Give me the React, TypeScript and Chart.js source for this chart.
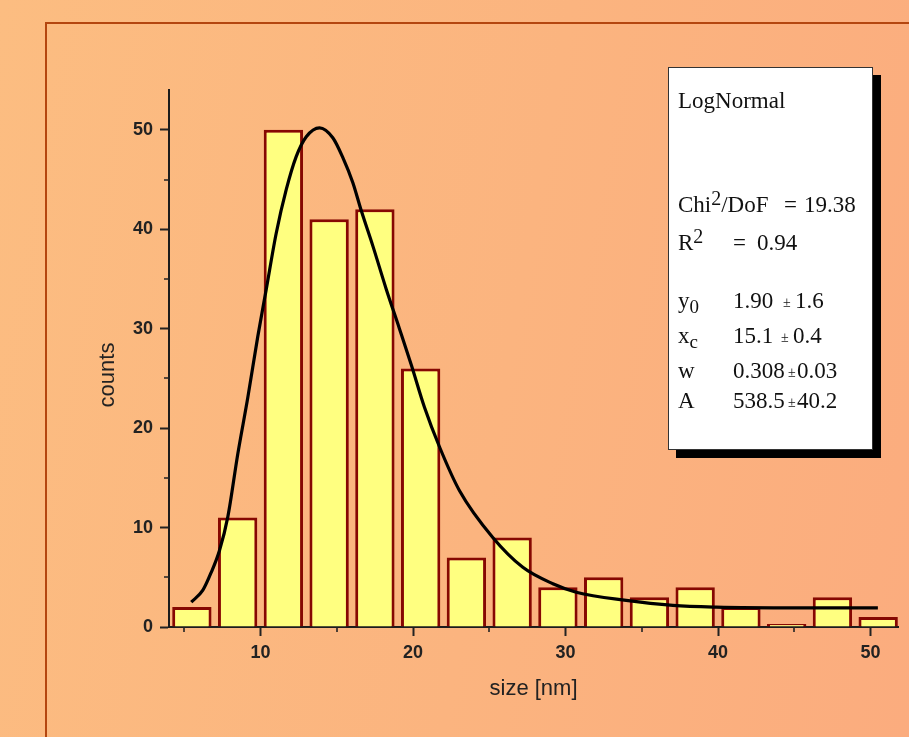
import React, { useEffect, useRef } from "react";
import { Chart, registerables } from "chart.js";

Chart.register(...registerables);

// ---- data ----
const binCenters = [5.5, 8.5, 11.5, 14.5, 17.5, 20.5, 23.5, 26.5, 29.5, 32.5, 35.5, 38.5, 41.5, 44.5, 47.5, 50.5];
const counts = [2, 11, 50, 41, 42, 26, 7, 9, 4, 5, 3, 4, 2, 0, 3, 1];

const fitX = [5.46, 6.22, 6.77, 7.31, 7.86, 8.51, 9.17, 9.82, 10.37, 11.03, 11.69, 12.34, 13.0, 13.87, 14.74, 15.4, 16.05, 16.6, 17.37, 18.24, 19.11, 19.9, 20.75, 21.74, 23.05, 25.23, 27.2, 29.17, 30.7, 33.98, 37.04, 39.88, 45.3, 50.48];
const fitY = [2.5, 3.7, 5.5, 7.7, 11.1, 17.4, 23.1, 29.2, 33.9, 39.6, 44.0, 47.3, 49.3, 50.2, 49.2, 47.2, 44.7, 41.9, 38.3, 34.0, 30.0, 26.3, 22.1, 18.1, 13.7, 9.0, 6.0, 4.35, 3.5, 2.67, 2.17, 2.0, 1.93, 1.93];

const xMinorTicks = [5, 15, 25, 35, 45];
const yMinorTicks = [5, 15, 25, 35, 45];

const xTitle = "size [nm]";
const yTitle = "counts";

const fitTitle = "LogNormal";
const chiValue = "19.38";
const r2Value = "0.94";
const paramNames = ["y", "x", "w", "A"];
const paramSubs = ["0", "c", "", ""];
const paramValues = ["1.90", "15.1", "0.308", "538.5"];
const paramErrors = ["1.6", "0.4", "0.03", "40.2"];

const SERIF = "'Liberation Serif', 'Times New Roman', serif";
const SANS = "'Liberation Sans', Arial, Helvetica, sans-serif";

type Part = [string, "n" | "sup" | "sub"];

function drawRich(ctx: CanvasRenderingContext2D, x: number, y: number, parts: Part[]) {
  let cx = x;
  for (const [t, kind] of parts) {
    if (kind === "n") {
      ctx.font = `23px ${SERIF}`;
      ctx.fillText(t, cx, y);
    } else if (kind === "sup") {
      ctx.font = `20px ${SERIF}`;
      ctx.fillText(t, cx, y - 7);
    } else {
      ctx.font = `19px ${SERIF}`;
      ctx.fillText(t, cx, y + 5);
    }
    cx += ctx.measureText(t).width;
  }
  return cx;
}

const minorTickPlugin = {
  id: "minorTicks",
  afterDraw(chart: any) {
    const { ctx, chartArea } = chart;
    const xs = chart.scales.x;
    const ys = chart.scales.y;
    ctx.save();
    ctx.strokeStyle = "#222";
    ctx.lineWidth = 1.6;
    ctx.beginPath();
    for (const v of xMinorTicks) {
      const px = Math.round(xs.getPixelForValue(v));
      ctx.moveTo(px, chartArea.bottom);
      ctx.lineTo(px, chartArea.bottom + 5);
    }
    for (const v of yMinorTicks) {
      const py = Math.round(ys.getPixelForValue(v));
      ctx.moveTo(chartArea.left, py);
      ctx.lineTo(chartArea.left - 5, py);
    }
    ctx.stroke();

    // y-axis title, placed as in the reference (slightly below the axis centre)
    ctx.translate(108, 375);
    ctx.rotate(-Math.PI / 2);
    ctx.font = `22px ${SANS}`;
    ctx.fillStyle = "#222";
    ctx.textAlign = "center";
    ctx.textBaseline = "middle";
    ctx.fillText(yTitle, 0, 0);
    ctx.restore();
  },
};

const fitBoxPlugin = {
  id: "fitBox",
  afterDraw(chart: any) {
    const ctx: CanvasRenderingContext2D = chart.ctx;
    const bx = 668, by = 67, bw = 205, bh = 383;
    ctx.save();
    ctx.fillStyle = "#000";
    ctx.fillRect(bx + 8, by + 8, bw, bh);
    ctx.fillStyle = "#fff";
    ctx.fillRect(bx, by, bw, bh);
    ctx.strokeStyle = "#333";
    ctx.lineWidth = 1;
    ctx.strokeRect(bx + 0.5, by + 0.5, bw - 1, bh - 1);

    ctx.fillStyle = "#111";
    ctx.textBaseline = "alphabetic";
    ctx.textAlign = "left";
    const lx = bx + 10;
    drawRich(ctx, lx, 108, [[fitTitle, "n"]]);
    drawRich(ctx, lx, 212, [["Chi", "n"], ["2", "sup"], ["/DoF", "n"]]);
    drawRich(ctx, 784, 212, [["=", "n"]]);
    drawRich(ctx, 804, 212, [[chiValue, "n"]]);
    drawRich(ctx, lx, 250, [["R", "n"], ["2", "sup"]]);
    drawRich(ctx, 733, 250, [["=", "n"]]);
    drawRich(ctx, 757, 250, [[r2Value, "n"]]);

    const rowY = [308, 343, 378, 408];
    const pmX = [783, 781, 788, 788];
    const errX = [795, 793, 797, 797];
    for (let i = 0; i < paramNames.length; i++) {
      const parts: Part[] = [[paramNames[i], "n"]];
      if (paramSubs[i]) parts.push([paramSubs[i], "sub"]);
      drawRich(ctx, lx, rowY[i], parts);
      drawRich(ctx, 733, rowY[i], [[paramValues[i], "n"]]);
      ctx.font = `14px ${SERIF}`;
      ctx.fillText("±", pmX[i], rowY[i] - 1);
      drawRich(ctx, errX[i], rowY[i], [[paramErrors[i], "n"]]);
    }
    ctx.restore();
  },
};

export default function App() {
  const ref = useRef<HTMLCanvasElement>(null);

  useEffect(() => {
    document.body.style.margin = "0";
    if (!ref.current) return;
    const tickFont = { family: SANS, size: 18, weight: "bold" as const };
    const titleFont = { family: SANS, size: 22, weight: "normal" as const };
    const chart = new Chart(ref.current, {
      type: "bar",
      data: {
        datasets: [
          {
            type: "line",
            label: "LogNormal fit",
            data: fitX.map((x, i) => ({ x, y: fitY[i] })),
            borderColor: "#000",
            borderWidth: 3.2,
            pointRadius: 0,
            fill: false,
            cubicInterpolationMode: "monotone",
            order: 0,
          } as any,
          {
            type: "bar",
            label: "counts",
            data: binCenters.map((x, i) => ({ x, y: counts[i] })),
            backgroundColor: "#ffff80",
            borderColor: "#860802",
            borderWidth: 3,
            borderSkipped: "start",
            categoryPercentage: 1,
            barPercentage: 0.86,
            minBarLength: 3,
            order: 1,
          } as any,
        ],
      },
      options: {
        responsive: false,
        animation: false,
        devicePixelRatio: 1,
        layout: { padding: { top: 90, right: 11, left: 0, bottom: 0 } },
        plugins: { legend: { display: false }, tooltip: { enabled: false } },
        scales: {
          x: {
            type: "linear",
            min: 4,
            max: 51.8,
            offset: false,
            z: 1,
            grid: {
              display: true,
              drawOnChartArea: false,
              drawTicks: true,
              tickLength: 9,
              tickWidth: 2,
              tickColor: "#222",
              offset: false,
            },
            border: { display: true, color: "#1c1c1c", width: 2 },
            ticks: {
              stepSize: 10,
              includeBounds: false,
              autoSkip: false,
              maxRotation: 0,
              padding: 6,
              color: "#222",
              font: tickFont,
            },
            title: {
              display: true,
              text: xTitle,
              color: "#222",
              font: titleFont,
              padding: { top: 0, bottom: 35 },
            },
            afterFit: (s: any) => {
              s.height = 110;
            },
          },
          y: {
            type: "linear",
            min: 0,
            max: 54,
            z: 1,
            grid: {
              display: true,
              drawOnChartArea: false,
              drawTicks: true,
              tickLength: 9,
              tickWidth: 2,
              tickColor: "#222",
            },
            border: { display: true, color: "#1c1c1c", width: 2 },
            ticks: {
              stepSize: 10,
              includeBounds: false,
              padding: 7,
              color: "#222",
              font: tickFont,
            },
            title: { display: false, text: yTitle },
            afterFit: (s: any) => {
              s.width = 169;
            },
          },
        },
      } as any,
      plugins: [minorTickPlugin, fitBoxPlugin],
    });
    return () => chart.destroy();
  }, []);

  return (
    <div
      style={{
        position: "fixed",
        left: 0,
        top: 0,
        width: 909,
        height: 737,
        overflow: "hidden",
        background: "linear-gradient(100deg, #fcbd81 0%, #fbb47f 55%, #fbac7e 100%)",
      }}
    >
      <div
        style={{
          position: "absolute",
          left: 45,
          top: 22,
          width: 2000,
          height: 2000,
          borderLeft: "2px solid #b4460f",
          borderTop: "2px solid #b4460f",
        }}
      />
      <canvas ref={ref} width={909} height={737} style={{ position: "absolute", left: 0, top: 0 }} />
    </div>
  );
}
